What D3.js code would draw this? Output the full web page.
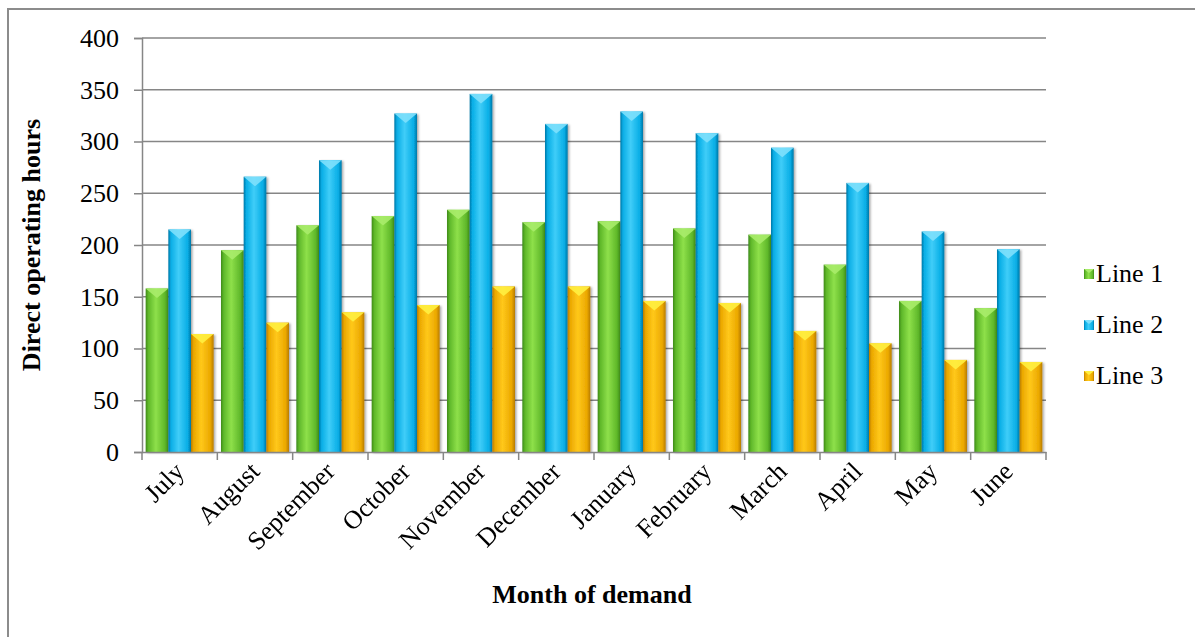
<!DOCTYPE html>
<html>
<head>
<meta charset="utf-8">
<script src="https://cdn.jsdelivr.net/npm/d3@7"></script>
<style>
  body { margin: 0; background: #fff; }
  text { font-family: "Liberation Serif", "Times New Roman", serif; }
</style>
</head>
<body>
<div id="graph"></div>
<script>
var months = ["July", "August", "September", "October", "November", "December",
    "January", "February", "March", "April", "May", "June"];
var seriesNames = ["Line 1", "Line 2", "Line 3"];
var line1 = [158, 195, 219, 228, 234, 222, 223, 216, 210, 181, 146, 139];
var line2 = [215, 266, 282, 327, 346, 317, 329, 308, 294, 260, 213, 196];
var line3 = [114, 125, 135, 142, 160, 160, 146, 144, 117, 105, 89, 87];
var yTicks = [0, 50, 100, 150, 200, 250, 300, 350, 400];

var width = 1195;
var height = 637;
var plotLeft = 142, plotRight = 1046, plotTop = 38, plotBottom = 452;
var fontSize = 26;

var colors = [
    { dark: "#3e8a18", mid: "#5fb82a", light: "#8ee04a", cap: "#a8ec6a" },
    { dark: "#0378a8", mid: "#08aee6", light: "#40cdf8", cap: "#7ee0fc" },
    { dark: "#b87c00", mid: "#eba800", light: "#ffc81a", cap: "#fff040" }
];

var svg = d3.select('#graph')
    .append('svg')
    .attr('width', width)
    .attr('height', height);

svg.append("rect")
    .attr("x", 8).attr("y", 9)
    .attr("width", 1300).attr("height", 800)
    .attr("fill", "none").attr("stroke", "#8c8c8c").attr("stroke-width", 2);

var defs = svg.append("defs");
colors.forEach(function(c, i) {
    var g = defs.append("linearGradient").attr("id", "grad" + i)
        .attr("x1", 0).attr("x2", 1).attr("y1", 0).attr("y2", 0);
    g.append("stop").attr("offset", "0%").attr("stop-color", c.dark);
    g.append("stop").attr("offset", "12%").attr("stop-color", c.mid);
    g.append("stop").attr("offset", "45%").attr("stop-color", c.light);
    g.append("stop").attr("offset", "85%").attr("stop-color", c.mid);
    g.append("stop").attr("offset", "100%").attr("stop-color", c.dark);
});
var shadow = defs.append("filter").attr("id", "shadow")
    .attr("x", "-20%").attr("y", "-5%").attr("width", "150%").attr("height", "115%");
shadow.append("feDropShadow").attr("dx", 1.5).attr("dy", 1).attr("stdDeviation", 1.2)
    .attr("flood-color", "#000").attr("flood-opacity", 0.35);

var scaleX = d3.scaleBand().domain(months).range([plotLeft, plotRight]).paddingInner(0).paddingOuter(0);
var scaleSeries = d3.scaleBand().domain(seriesNames)
    .range([0, scaleX.bandwidth()]).paddingInner(0).paddingOuter(0.162);
var scaleY = d3.scaleLinear().domain([0, 400]).range([plotBottom, plotTop]);

// gridlines
svg.append("g")
    .selectAll("line")
    .data(yTicks.slice(1))
    .enter()
    .append("line")
    .attr("x1", plotLeft).attr("x2", plotRight)
    .attr("y1", function(d) { return scaleY(d); })
    .attr("y2", function(d) { return scaleY(d); })
    .attr("stroke", "#868686").attr("stroke-width", 1.5);

// y axis
var yAxis = d3.axisLeft(scaleY).tickValues(yTicks).tickSize(8).tickPadding(15);
var gy = svg.append("g").attr("transform", "translate(" + plotLeft + ",0)").call(yAxis);
gy.select(".domain").attr("stroke", "#868686").attr("stroke-width", 1.5);
gy.selectAll(".tick line").attr("stroke", "#868686").attr("stroke-width", 1.5);
gy.selectAll(".tick text")
    .attr("font-family", "Liberation Serif, serif")
    .attr("font-size", fontSize).attr("fill", "#000");

var data = [line1, line2, line3];
data.forEach(function(vals, si) {
    var g = svg.append("g").attr("filter", "url(#shadow)");
    var bw = scaleSeries.bandwidth();
    var groups = g.selectAll("g")
        .data(vals.map(function(v, i) { return { month: months[i], value: v }; }))
        .enter()
        .append("g");
    groups.append("rect")
        .attr("x", function(d) { return scaleX(d.month) + scaleSeries(seriesNames[si]); })
        .attr("y", function(d) { return scaleY(d.value); })
        .attr("width", bw)
        .attr("height", function(d) { return plotBottom - scaleY(d.value); })
        .attr("fill", "url(#grad" + si + ")");
    groups.append("path")
        .attr("d", function(d) {
            var x0 = scaleX(d.month) + scaleSeries(seriesNames[si]);
            var y0 = scaleY(d.value);
            var dy = bw * 0.42;
            return "M" + x0 + "," + y0 + "L" + (x0 + bw) + "," + y0 + "L" + (x0 + bw / 2) + "," + (y0 + dy) + "Z";
        })
        .attr("fill", colors[si].cap).attr("opacity", 0.9);
});

// x axis
var xAxis = d3.axisBottom(scaleX).tickSize(0).tickFormat("");
var gx = svg.append("g").attr("transform", "translate(0," + plotBottom + ")").call(xAxis);
gx.select(".domain").attr("stroke", "#868686").attr("stroke-width", 1.5);
var edges = months.map(function(m) { return scaleX(m); }).concat([plotRight]);
gx.selectAll(".edge")
    .data(edges)
    .enter()
    .append("line")
    .attr("x1", function(d) { return d; }).attr("x2", function(d) { return d; })
    .attr("y1", 0).attr("y2", 8)
    .attr("stroke", "#868686").attr("stroke-width", 1.5);

svg.append("g")
    .selectAll("text")
    .data(months)
    .enter()
    .append("text")
    .attr("transform", function(d) {
        return "translate(" + (scaleX(d) + scaleX.bandwidth() / 2 + 6) + "," + (plotBottom + 21) + ") rotate(-45)";
    })
    .attr("text-anchor", "end")
    .attr("font-size", fontSize)
    .text(function(d) { return d; });

// axis titles
svg.append("text")
    .attr("transform", "translate(40,245) rotate(-90)")
    .attr("text-anchor", "middle")
    .attr("font-weight", "bold")
    .attr("font-size", fontSize)
    .text("Direct operating hours");

svg.append("text")
    .attr("x", 592).attr("y", 603)
    .attr("text-anchor", "middle")
    .attr("font-weight", "bold")
    .attr("font-size", fontSize)
    .text("Month of demand");

// legend
var legend = svg.append("g")
    .selectAll("g")
    .data(seriesNames)
    .enter()
    .append("g")
    .attr("transform", function(d, i) { return "translate(1084," + (273 + i * 51) + ")"; });
legend.append("rect")
    .attr("x", 0).attr("y", -4).attr("width", 10).attr("height", 10)
    .attr("fill", function(d, i) { return "url(#grad" + i + ")"; });
legend.append("path")
    .attr("d", "M0,-4L10,-4L5,0Z")
    .attr("fill", function(d, i) { return colors[i].cap; });
legend.append("text")
    .attr("x", 12).attr("y", 9)
    .attr("font-size", fontSize)
    .text(function(d) { return d; });
</script>
</body>
</html>
